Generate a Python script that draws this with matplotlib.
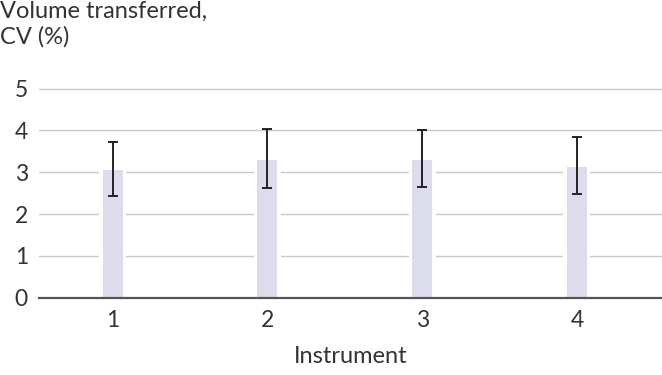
import matplotlib
matplotlib.use("Agg")
import matplotlib.pyplot as plt

# Data
instruments = [1, 2, 3, 4]
cv_mean = [3.05, 3.29, 3.29, 3.13]
cv_err_low = [0.62, 0.67, 0.64, 0.64]
cv_err_high = [0.67, 0.75, 0.71, 0.71]
y_ticks = [0, 1, 2, 3, 4, 5]

plt.rcParams['font.family'] = ['Lato', 'DejaVu Sans']
text_color = '#333333'

fig = plt.figure(figsize=(6.62, 3.75), dpi=100)
ax = fig.add_axes([39 / 662, 0.2061, 1 - 39 / 662, 0.5797])

bar_w = 0.13
gap = 2 * 3.5 / 154.8
# white halo behind the bars so gridlines stop short of them
ax.bar(instruments, cv_mean, width=bar_w + gap, color='white', zorder=2)
ax.bar(instruments, cv_mean, width=bar_w, color='#dcdcec', zorder=3)
ax.errorbar(instruments, cv_mean, yerr=[cv_err_low, cv_err_high], fmt='none',
            ecolor='#222222', elinewidth=1.4, capsize=3.3, capthick=1.4, zorder=4)

ax.set_xlim(0.524, 4.55)
ax.set_ylim(0, 5.2)
ax.set_yticks(y_ticks)
ax.set_xticks(instruments)
for y in y_ticks[1:]:
    ax.axhline(y, color='#c8c8c8', linewidth=1.0, zorder=1)

for s in ['top', 'right', 'left']:
    ax.spines[s].set_visible(False)
ax.spines['bottom'].set_color('#555555')
ax.spines['bottom'].set_linewidth(1.6)
ax.spines['bottom'].set_zorder(5)

ax.tick_params(axis='both', length=0, labelsize=16.5, colors=text_color)
ax.tick_params(axis='y', pad=8)
ax.tick_params(axis='x', pad=9)

ax.set_xlabel('Instrument', fontsize=17, color=text_color, labelpad=11)
fig.text(0.0, 0.997, 'Volume transferred,\nCV (%)', ha='left', va='top',
         fontsize=17, color=text_color, linespacing=1.2)

fig.savefig('out.png', dpi=100)
